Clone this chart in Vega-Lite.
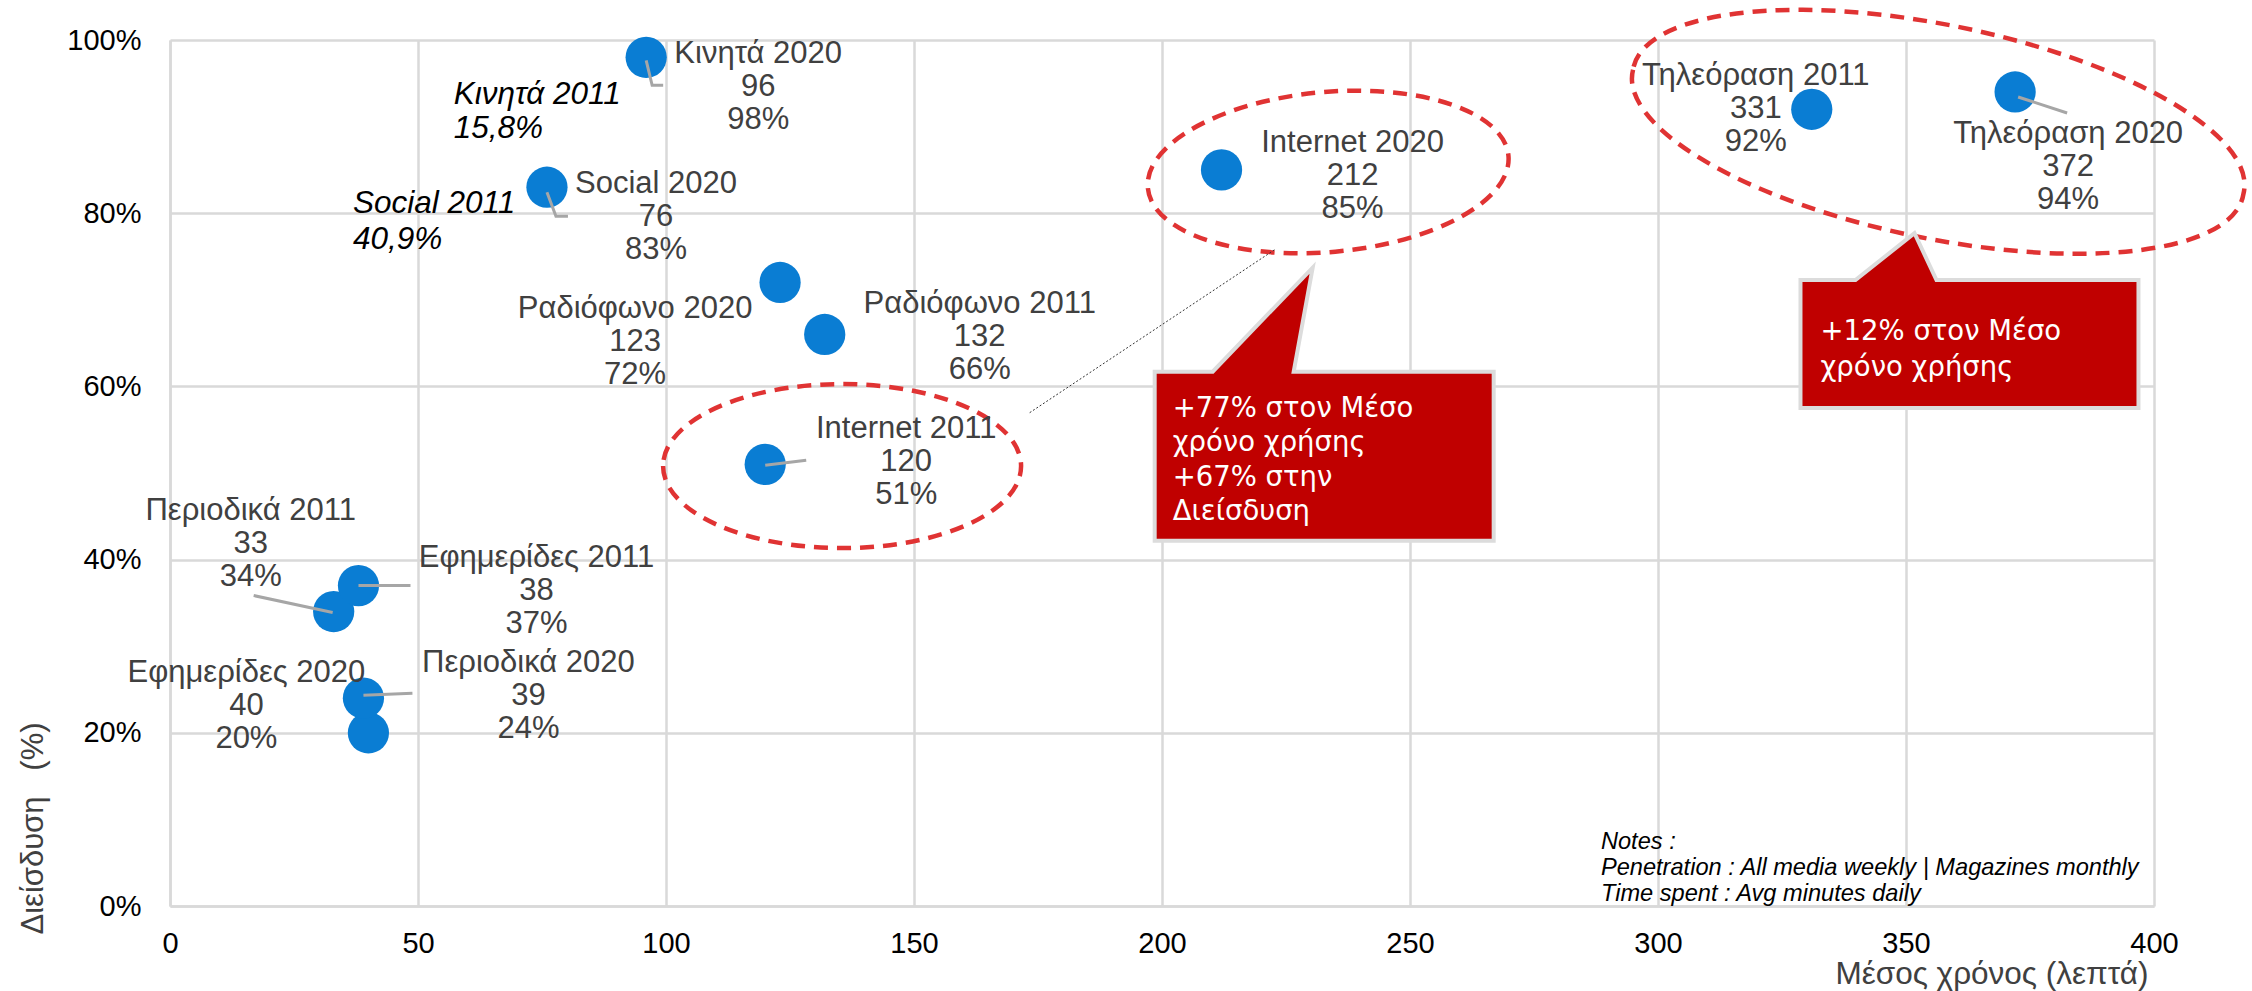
{
  "$schema": "https://vega.github.io/schema/vega-lite/v6.json",
  "width": 1984,
  "height": 866,
  "autosize": {"type": "none"},
  "padding": {"left": 170, "top": 40, "right": 98, "bottom": 85},
  "background": "#ffffff",
  "config": {"view": {"stroke": null}, "font": "Liberation Sans"},
  "datasets": {
    "media": [
      {"media": "Κινητά", "year": 2020, "time": 96, "reach": 0.98},
      {"media": "Social", "year": 2020, "time": 76, "reach": 0.83},
      {"media": "Ραδιόφωνο", "year": 2020, "time": 123, "reach": 0.72},
      {"media": "Ραδιόφωνο", "year": 2011, "time": 132, "reach": 0.66},
      {"media": "Internet", "year": 2011, "time": 120, "reach": 0.51},
      {"media": "Internet", "year": 2020, "time": 212, "reach": 0.85},
      {"media": "Τηλεόραση", "year": 2011, "time": 331, "reach": 0.92},
      {"media": "Τηλεόραση", "year": 2020, "time": 372, "reach": 0.94},
      {"media": "Περιοδικά", "year": 2011, "time": 33, "reach": 0.34},
      {"media": "Εφημερίδες", "year": 2011, "time": 38, "reach": 0.37},
      {"media": "Εφημερίδες", "year": 2020, "time": 40, "reach": 0.20},
      {"media": "Περιοδικά", "year": 2020, "time": 39, "reach": 0.24}
    ],
    "anno": [{"k": 1}]
  },
  "layer": [
    {
      "data": {"name": "anno"},
      "layer": [
        {
          "mark": {"type": "point", "shape": "M-179,0 A179,82 0 1,0 179,0 A179,82 0 1,0 -179,0 Z", "size": 4, "filled": false, "stroke": "#e03333", "strokeWidth": 4.5, "strokeDash": [14, 9], "opacity": 1},
          "encoding": {"x": {"datum": 135.5, "type": "quantitative"}, "y": {"datum": 0.508, "type": "quantitative"}}
        },
        {
          "mark": {"type": "point", "shape": "M-180.3,16.1 A181,80 -5.1 1,0 180.3,-16.1 A181,80 -5.1 1,0 -180.3,16.1 Z", "size": 4, "filled": false, "stroke": "#e03333", "strokeWidth": 4.5, "strokeDash": [14, 9], "opacity": 1},
          "encoding": {"x": {"datum": 233.5, "type": "quantitative"}, "y": {"datum": 0.8476, "type": "quantitative"}}
        },
        {
          "mark": {"type": "point", "shape": "M-305.2,-62.1 A311.5,105 11.5 1,0 305.2,62.1 A311.5,105 11.5 1,0 -305.2,-62.1 Z", "size": 4, "filled": false, "stroke": "#e03333", "strokeWidth": 4.5, "strokeDash": [14, 9], "opacity": 1},
          "encoding": {"x": {"datum": 356.5, "type": "quantitative"}, "y": {"datum": 0.894, "type": "quantitative"}}
        },
        {
          "mark": {"type": "point", "shape": "M-296,-43 L-51,-206", "size": 4, "filled": false, "stroke": "#333333", "strokeWidth": 1, "strokeDash": [2, 2], "opacity": 1},
          "encoding": {"x": {"datum": 233, "type": "quantitative"}, "y": {"datum": 0.52, "type": "quantitative"}}
        },
        {
          "mark": {"type": "point", "shape": "M-171,-84 L-113,-84 L-13,-188 L-32,-84 L168,-84 L168,85 L-171,85 Z", "size": 4, "filled": true, "fill": "#c00000", "stroke": "#dcdcdc", "strokeWidth": 4, "opacity": 1},
          "encoding": {"x": {"datum": 233, "type": "quantitative"}, "y": {"datum": 0.52, "type": "quantitative"}}
        },
        {
          "mark": {"type": "point", "shape": "M-170,-63 L-115,-63 L-56,-110 L-34,-63 L168,-63 L168,65 L-170,65 Z", "size": 4, "filled": true, "fill": "#c00000", "stroke": "#dcdcdc", "strokeWidth": 4, "opacity": 1},
          "encoding": {"x": {"datum": 363, "type": "quantitative"}, "y": {"datum": 0.65, "type": "quantitative"}}
        },
        {
          "mark": {"type": "text", "align": "left", "baseline": "top", "dx": -153, "dy": -61, "font": "DejaVu Sans", "fontSize": 27.5, "lineHeight": 34.5, "color": "#ffffff"},
          "encoding": {"x": {"datum": 233, "type": "quantitative"}, "y": {"datum": 0.52, "type": "quantitative"}, "text": {"value": ["+77% στον Μέσο", "χρόνο χρήσης", "+67% στην", "Διείσδυση"]}}
        },
        {
          "mark": {"type": "text", "align": "left", "baseline": "top", "dx": -150, "dy": -25, "font": "DejaVu Sans", "fontSize": 27.5, "lineHeight": 36, "color": "#ffffff"},
          "encoding": {"x": {"datum": 363, "type": "quantitative"}, "y": {"datum": 0.65, "type": "quantitative"}, "text": {"value": ["+12% στον Μέσο", "χρόνο χρήσης"]}}
        },
        {
          "mark": {"type": "text", "align": "left", "baseline": "top", "font": "Liberation Sans", "fontSize": 31.5, "fontStyle": "italic", "lineHeight": 34, "color": "#000000"},
          "encoding": {"x": {"datum": 57.2, "type": "quantitative"}, "y": {"datum": 0.955, "type": "quantitative"}, "text": {"value": ["Κινητά 2011", "15,8%"]}}
        },
        {
          "mark": {"type": "text", "align": "left", "baseline": "top", "font": "Liberation Sans", "fontSize": 31.5, "fontStyle": "italic", "lineHeight": 36, "color": "#000000"},
          "encoding": {"x": {"datum": 36.9, "type": "quantitative"}, "y": {"datum": 0.829, "type": "quantitative"}, "text": {"value": ["Social 2011", "40,9%"]}}
        },
        {
          "mark": {"type": "text", "align": "left", "baseline": "top", "font": "Liberation Sans", "fontSize": 23.6, "fontStyle": "italic", "lineHeight": 26, "color": "#000000"},
          "encoding": {"x": {"datum": 288.5, "type": "quantitative"}, "y": {"datum": 0.0878, "type": "quantitative"}, "text": {"value": ["Notes :", "Penetration : All media weekly | Magazines monthly", "Time spent : Avg minutes daily"]}}
        }
      ]
    },
    {
      "data": {"name": "media"},
      "transform": [
        {"calculate": "[datum.media + ' ' + datum.year, format(datum.time, 'd'), format(datum.reach, '.0%')]", "as": "label"}
      ],
      "encoding": {
        "x": {
          "field": "time", "type": "quantitative",
          "scale": {"domain": [0, 400], "nice": false},
          "axis": {
            "values": [0, 50, 100, 150, 200, 250, 300, 350, 400],
            "title": "Μέσος χρόνος (λεπτά)",
            "grid": true, "gridColor": "#d9d9d9", "gridWidth": 2.5,
            "domainColor": "#d9d9d9", "domainWidth": 2.5,
            "ticks": false, "tickSize": 0,
            "labelFont": "Liberation Sans", "labelFontSize": 29, "labelColor": "#000000",
            "labelPadding": 23, "labelFlush": false,
            "titleFont": "Liberation Sans", "titleFontSize": 31.5, "titleFontWeight": "normal", "titleColor": "#404040",
            "titleX": 1978, "titleY": 68, "titleAlign": "right", "titleBaseline": "middle"
          }
        },
        "y": {
          "field": "reach", "type": "quantitative",
          "scale": {"domain": [0, 1], "nice": false},
          "axis": {
            "values": [0, 0.2, 0.4, 0.6, 0.8, 1],
            "format": ".0%",
            "title": "Διείσδυση\u00a0\u00a0\u00a0(%)",
            "grid": true, "gridColor": "#d9d9d9", "gridWidth": 2.5,
            "domainColor": "#d9d9d9", "domainWidth": 2.5,
            "ticks": false, "tickSize": 0,
            "labelFont": "Liberation Sans", "labelFontSize": 29, "labelColor": "#000000",
            "labelPadding": 29, "labelFlush": false,
            "titleFont": "Liberation Sans", "titleFontSize": 31, "titleFontWeight": "normal", "titleColor": "#404040",
            "titleAngle": 270, "titleX": -137, "titleY": 788, "titleAlign": "center", "titleBaseline": "middle"
          }
        }
      },
      "layer": [
        {
          "mark": {"type": "circle", "size": 1700, "color": "#0a7dd3", "opacity": 1}
        },
        {
          "transform": [{"filter": "datum.media === 'Κινητά' && datum.year === 2020"}],
          "mark": {"type": "point", "shape": "M0,3 L6,28 L17,28", "size": 4, "filled": false, "stroke": "#a6a6a6", "strokeWidth": 3, "opacity": 1}
        },
        {
          "transform": [{"filter": "datum.media === 'Social' && datum.year === 2020"}],
          "mark": {"type": "point", "shape": "M0,5 L9,29 L21,29", "size": 4, "filled": false, "stroke": "#a6a6a6", "strokeWidth": 3, "opacity": 1}
        },
        {
          "transform": [{"filter": "datum.media === 'Internet' && datum.year === 2011"}],
          "mark": {"type": "point", "shape": "M0,1 L41,-4", "size": 4, "filled": false, "stroke": "#a6a6a6", "strokeWidth": 3, "opacity": 1}
        },
        {
          "transform": [{"filter": "datum.media === 'Τηλεόραση' && datum.year === 2020"}],
          "mark": {"type": "point", "shape": "M3,5 L52,21", "size": 4, "filled": false, "stroke": "#a6a6a6", "strokeWidth": 3, "opacity": 1}
        },
        {
          "transform": [{"filter": "datum.media === 'Περιοδικά' && datum.year === 2011"}],
          "mark": {"type": "point", "shape": "M-80,-16 L-1,1", "size": 4, "filled": false, "stroke": "#a6a6a6", "strokeWidth": 3, "opacity": 1}
        },
        {
          "transform": [{"filter": "datum.media === 'Εφημερίδες' && datum.year === 2011"}],
          "mark": {"type": "point", "shape": "M0,0 L52,0", "size": 4, "filled": false, "stroke": "#a6a6a6", "strokeWidth": 3, "opacity": 1}
        },
        {
          "transform": [{"filter": "datum.media === 'Περιοδικά' && datum.year === 2020"}],
          "mark": {"type": "point", "shape": "M0,-3 L49,-5", "size": 4, "filled": false, "stroke": "#a6a6a6", "strokeWidth": 3, "opacity": 1}
        },
        {
          "transform": [{"filter": "datum.media === 'Κινητά' && datum.year === 2020"}],
          "mark": {"type": "text", "align": "center", "baseline": "top", "dx": 112, "dy": -18, "font": "Liberation Sans", "fontSize": 31, "lineHeight": 33, "color": "#404040"},
          "encoding": {"text": {"field": "label"}}
        },
        {
          "transform": [{"filter": "datum.media === 'Social' && datum.year === 2020"}],
          "mark": {"type": "text", "align": "center", "baseline": "top", "dx": 109, "dy": -18, "font": "Liberation Sans", "fontSize": 31, "lineHeight": 33, "color": "#404040"},
          "encoding": {"text": {"field": "label"}}
        },
        {
          "transform": [{"filter": "datum.media === 'Ραδιόφωνο' && datum.year === 2020"}],
          "mark": {"type": "text", "align": "center", "baseline": "top", "dx": -145, "dy": 12, "font": "Liberation Sans", "fontSize": 31, "lineHeight": 33, "color": "#404040"},
          "encoding": {"text": {"field": "label"}}
        },
        {
          "transform": [{"filter": "datum.media === 'Ραδιόφωνο' && datum.year === 2011"}],
          "mark": {"type": "text", "align": "center", "baseline": "top", "dx": 155, "dy": -45, "font": "Liberation Sans", "fontSize": 31, "lineHeight": 33, "color": "#404040"},
          "encoding": {"text": {"field": "label"}}
        },
        {
          "transform": [{"filter": "datum.media === 'Internet' && datum.year === 2011"}],
          "mark": {"type": "text", "align": "center", "baseline": "top", "dx": 141, "dy": -50, "font": "Liberation Sans", "fontSize": 31, "lineHeight": 33, "color": "#404040"},
          "encoding": {"text": {"field": "label"}}
        },
        {
          "transform": [{"filter": "datum.media === 'Internet' && datum.year === 2020"}],
          "mark": {"type": "text", "align": "center", "baseline": "top", "dx": 131, "dy": -42, "font": "Liberation Sans", "fontSize": 31, "lineHeight": 33, "color": "#404040"},
          "encoding": {"text": {"field": "label"}}
        },
        {
          "transform": [{"filter": "datum.media === 'Τηλεόραση' && datum.year === 2011"}],
          "mark": {"type": "text", "align": "center", "baseline": "top", "dx": -56, "dy": -48, "font": "Liberation Sans", "fontSize": 31, "lineHeight": 33, "color": "#404040"},
          "encoding": {"text": {"field": "label"}}
        },
        {
          "transform": [{"filter": "datum.media === 'Τηλεόραση' && datum.year === 2020"}],
          "mark": {"type": "text", "align": "center", "baseline": "top", "dx": 53, "dy": 27, "font": "Liberation Sans", "fontSize": 31, "lineHeight": 33, "color": "#404040"},
          "encoding": {"text": {"field": "label"}}
        },
        {
          "transform": [{"filter": "datum.media === 'Περιοδικά' && datum.year === 2011"}],
          "mark": {"type": "text", "align": "center", "baseline": "top", "dx": -83, "dy": -116, "font": "Liberation Sans", "fontSize": 31, "lineHeight": 33, "color": "#404040"},
          "encoding": {"text": {"field": "label"}}
        },
        {
          "transform": [{"filter": "datum.media === 'Εφημερίδες' && datum.year === 2011"}],
          "mark": {"type": "text", "align": "center", "baseline": "top", "dx": 178, "dy": -43, "font": "Liberation Sans", "fontSize": 31, "lineHeight": 33, "color": "#404040"},
          "encoding": {"text": {"field": "label"}}
        },
        {
          "transform": [{"filter": "datum.media === 'Εφημερίδες' && datum.year === 2020"}],
          "mark": {"type": "text", "align": "center", "baseline": "top", "dx": -122, "dy": -75, "font": "Liberation Sans", "fontSize": 31, "lineHeight": 33, "color": "#404040"},
          "encoding": {"text": {"field": "label"}}
        },
        {
          "transform": [{"filter": "datum.media === 'Περιοδικά' && datum.year === 2020"}],
          "mark": {"type": "text", "align": "center", "baseline": "top", "dx": 165, "dy": -50, "font": "Liberation Sans", "fontSize": 31, "lineHeight": 33, "color": "#404040"},
          "encoding": {"text": {"field": "label"}}
        }
      ]
    }
  ]
}
